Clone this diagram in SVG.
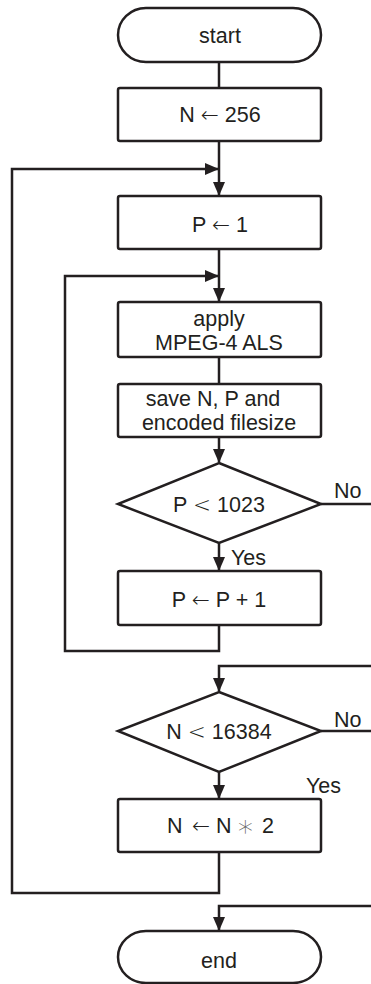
<svg xmlns="http://www.w3.org/2000/svg" width="371" height="984" viewBox="0 0 371 984">
<style>
.s{fill:#fff;stroke:#231f20;stroke-width:2.5;stroke-linejoin:miter}
.c{fill:none;stroke:#231f20;stroke-width:2.5}
.a{marker-end:url(#ah)}
text{font-family:"Liberation Sans",Arial,sans-serif;font-size:21.5px;fill:#231f20;text-anchor:middle}
.l{text-anchor:start}
.m{font-family:"DejaVu Sans",sans-serif;font-weight:200}
.st{font-family:"DejaVu Sans",sans-serif;font-weight:200;font-size:30px;fill:#666}
</style>
<defs>
<marker id="ah" markerUnits="userSpaceOnUse" markerWidth="14" markerHeight="14" viewBox="0 0 14 12" refX="13" refY="6" orient="auto">
<path d="M0,0 L14,6 L0,12 Z" fill="#231f20"/>
</marker>
</defs>
<g id="connectors">
<path class="c" d="M219,62 V88"/>
<path class="c a" d="M219,141 V195"/>
<path class="c a" d="M219,852 V893 H12 V169 H218"/>
<path class="c a" d="M219,249 V301"/>
<path class="c a" d="M219,625 V651 H65 V276 H218"/>
<path class="c" d="M219,357 V384"/>
<path class="c a" d="M219,437 V462"/>
<path class="c" d="M321,504 H371"/>
<path class="c a" d="M219,543 V570"/>
<path class="c a" d="M371,666 H219 V691"/>
<path class="c" d="M321,731 H371"/>
<path class="c a" d="M219,772 V798"/>
<path class="c a" d="M371,906 H219 V930"/>
<text class="l" x="334" y="498">No</text>
<text class="l" x="231" y="565">Yes</text>
<text class="l" x="334" y="727">No</text>
<text class="l" x="306" y="793">Yes</text>
</g>
<g id="start">
<path class="s" d="M146,8 H293 A28,27 0 0 1 293,62 H146 A28,27 0 0 1 146,8 Z"/>
<text x="220" y="43">start</text>
</g>
<g id="n256">
<rect class="s" x="118" y="88" width="203" height="53" rx="2"/>
<text x="220" y="122">N <tspan class="m">←</tspan> 256</text>
</g>
<g id="p1">
<rect class="s" x="118" y="196" width="203" height="53" rx="2"/>
<text x="220" y="232">P <tspan class="m">←</tspan> 1</text>
</g>
<g id="apply">
<rect class="s" x="118" y="302" width="203" height="55" rx="2"/>
<text x="219" y="326">apply</text>
<text x="219" y="350">MPEG-4 ALS</text>
</g>
<g id="save">
<rect class="s" x="118" y="384" width="203" height="53" rx="2"/>
<text x="213" y="406">save N, P and</text>
<text x="219" y="430">encoded filesize</text>
</g>
<g id="d1">
<path class="s" d="M219,463 L321,504 L219,543 L118,504 Z"/>
<text x="219" y="512">P <tspan class="m">&lt;</tspan> 1023</text>
</g>
<g id="pinc">
<rect class="s" x="118" y="571" width="203" height="54" rx="2"/>
<text x="219" y="607">P <tspan class="m">←</tspan> P + 1</text>
</g>
<g id="d2">
<path class="s" d="M219,692 L321,731 L219,772 L118,731 Z"/>
<text x="219" y="739">N <tspan class="m">&lt;</tspan> 16384</text>
</g>
<g id="ndbl">
<rect class="s" x="118" y="799" width="203" height="53" rx="2"/>
<text class="l" y="833"><tspan x="167">N</tspan><tspan class="m" x="192">←</tspan><tspan x="216">N</tspan><tspan class="st" x="236" dy="3">∗</tspan><tspan x="262" dy="-3">2</tspan></text>
</g>
<g id="end">
<path class="s" d="M146,931 H293 A28,26 0 0 1 293,983 H146 A28,26 0 0 1 146,931 Z"/>
<text x="219" y="968">end</text>
</g>
</svg>
